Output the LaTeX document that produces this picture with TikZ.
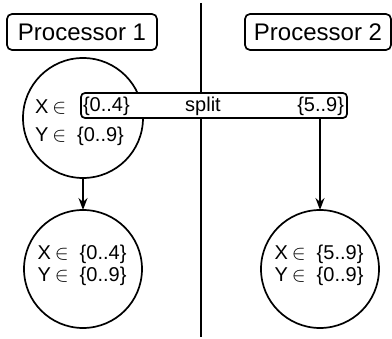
\documentclass[tikz,border=0pt]{standalone}
\usepackage{fontspec}
\setmainfont{Liberation Sans}
\usetikzlibrary{arrows.meta}
\newcommand{\myin}{\hspace{4pt}$\in$\hspace{11pt}}
\begin{document}
\begin{tikzpicture}[x=1pt,y=-1pt,
  every node/.style={inner sep=0pt,outer sep=0pt},
  ln/.style={line width=1.7pt},
  procbox/.style={draw,line width=1.7pt,rounded corners=5pt,minimum height=36pt,font=\fontsize{24}{26}\selectfont},
  state/.style={draw,circle,line width=1.7pt,minimum size=118pt},
  lab/.style={font=\fontsize{20}{22}\selectfont},
  arr/.style={line width=1.7pt,-{Stealth[length=12pt,width=9pt,inset=4pt]}}]
\useasboundingbox (0,0) rectangle (392,339);
% divider
\coordinate (vtop) at (201,3);
\coordinate (vbot) at (201,337);
\draw[ln] (vtop) -- (vbot);
% processor labels
\node[procbox,minimum width=150pt] (p1) at (82,32) {Processor 1};
\node[procbox,minimum width=146pt] (p2) at (318,32) {Processor 2};
% top circle
\node[state,minimum size=120pt] (top) at (83,118) {};
% split box
\node[draw,fill=white,line width=1.7pt,rounded corners=4pt,minimum width=266pt,minimum height=25pt] (split) at (214,105.5) {};
\node[lab,anchor=west] (xt) at (35,107) {X\hspace{4pt}$\in$};
\node[lab,anchor=west] (xlo) at (83,106) {\{0..4\}};
\node[lab] (sp) at (203,106) {split};
\node[lab,anchor=east] (xhi) at (344,106) {\{5..9\}};
\node[lab,anchor=west] (yt) at (35,136) {Y\myin\{0..9\}};
% bottom circles
\node[state] (bl) at (83,269) {};
\node[state] (br) at (320,269) {};
\node[lab,align=left] (blt) at (82,265) {X\myin\{0..4\}\\Y\myin\{0..9\}};
\node[lab,align=left] (brt) at (319,265) {X\myin\{5..9\}\\Y\myin\{0..9\}};
% arrows
\draw[arr] (top.south) -- (bl.north);
\draw[arr] (br.north |- split.south) -- (br.north);
\end{tikzpicture}
\end{document}
